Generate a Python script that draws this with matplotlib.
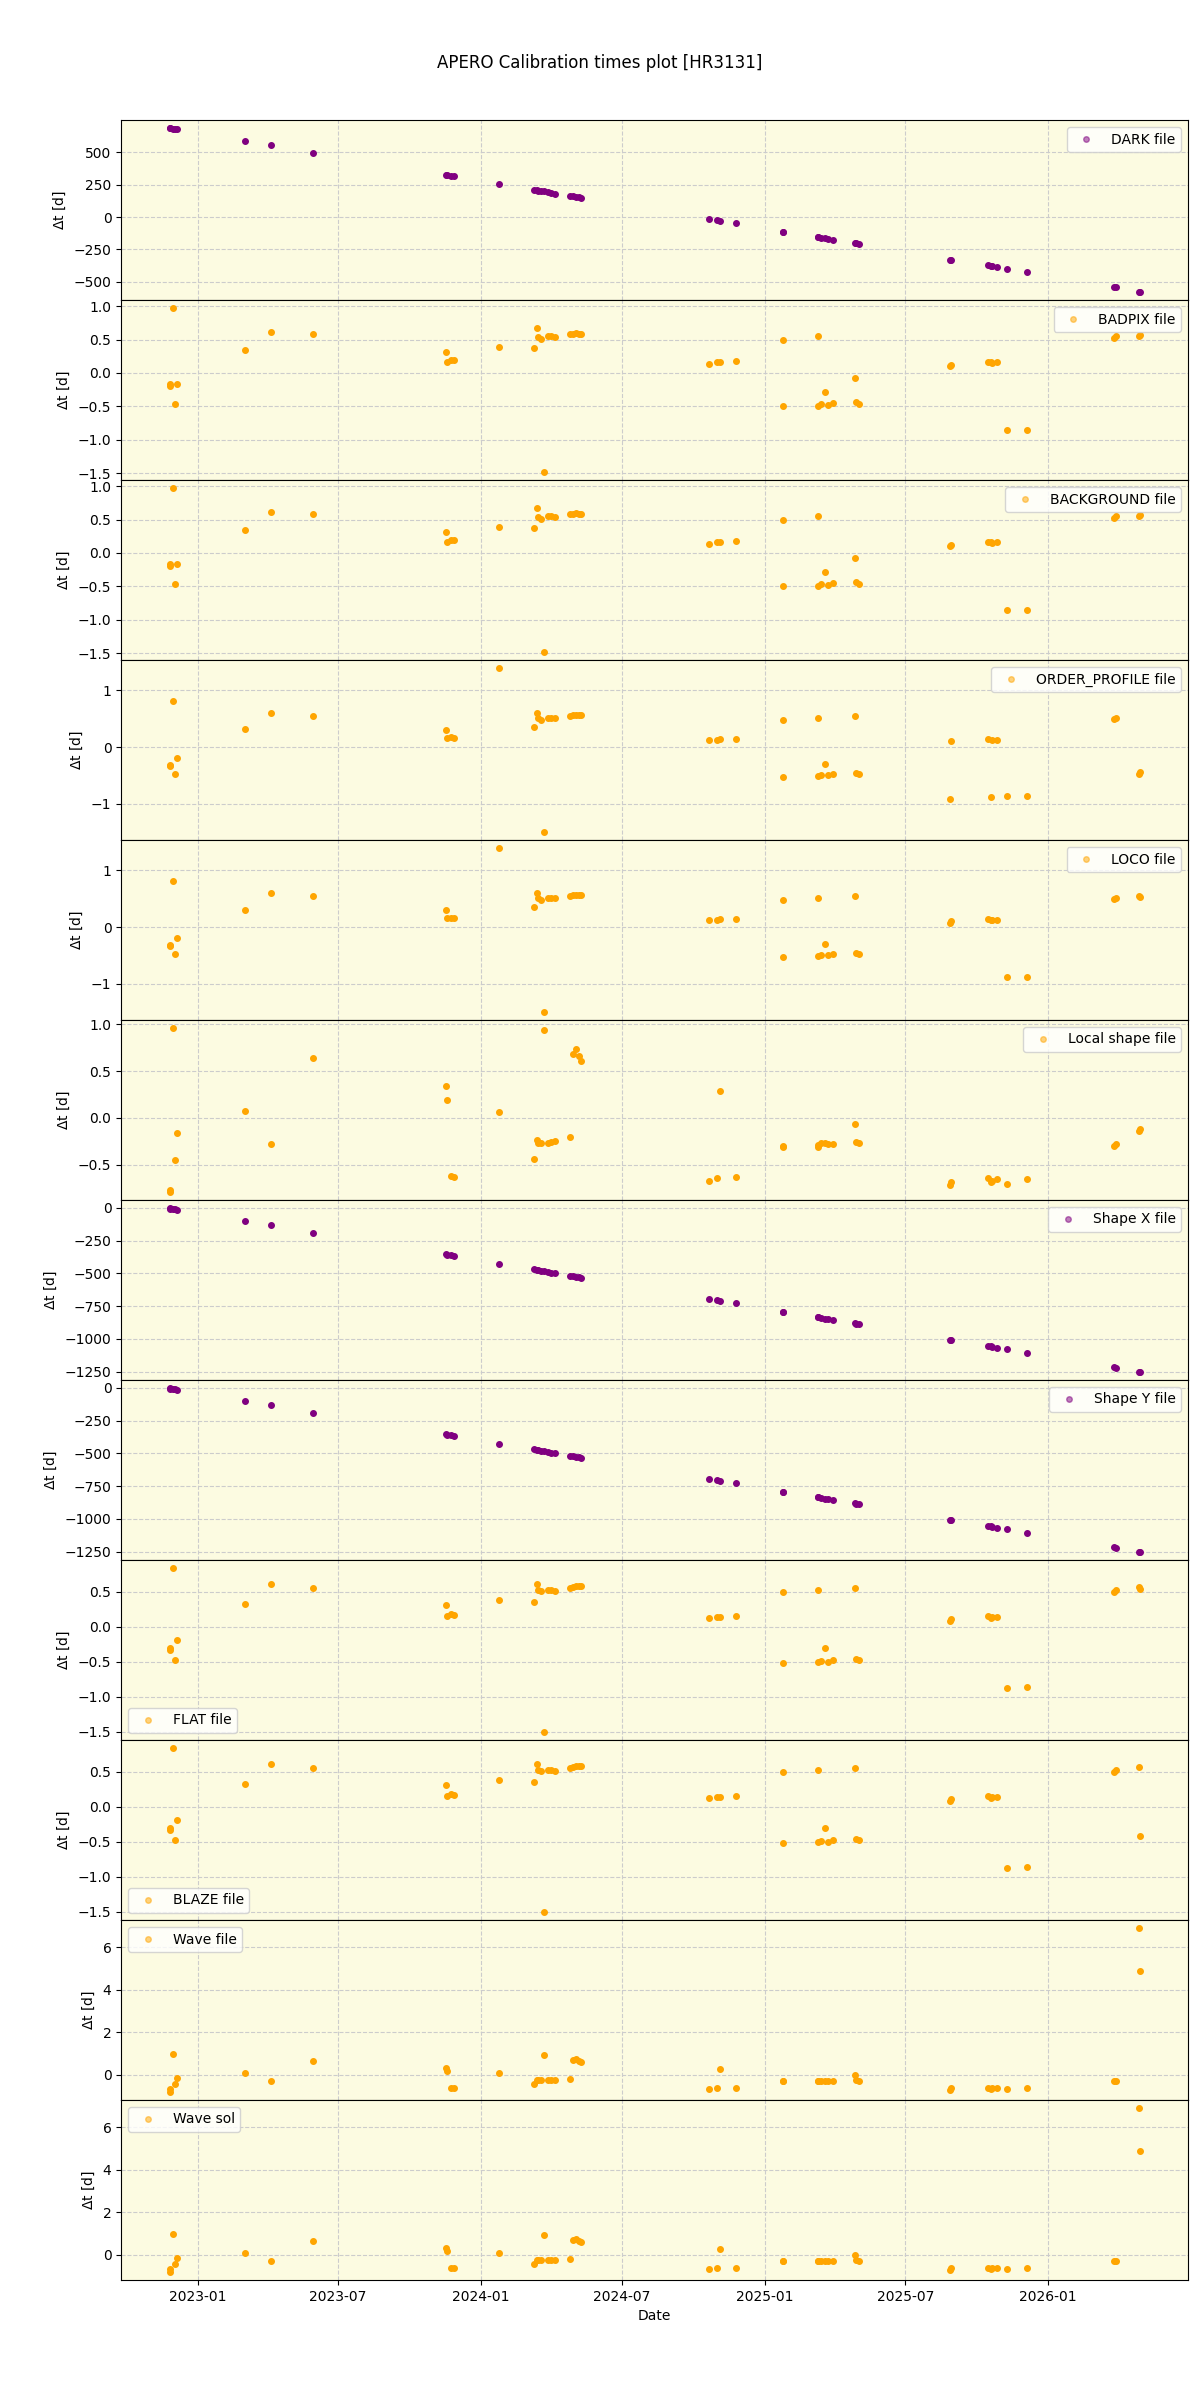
"""
plot.py
- Calibration time offsets (dt = t_calib - t_obs) for HR3131, one panel per calib type.
- Shared date axis, panels stacked with no vertical gap.
"""

import matplotlib
matplotlib.use("Agg")

import matplotlib.pyplot as plt
import matplotlib.dates as mdates
import pandas as pd

# observation dates (one entry per plotted point)
obs_dates = [
    "2022-11-26", "2022-11-27", "2022-11-30", "2022-12-03", "2022-12-06",
    "2023-03-03", "2023-04-06", "2023-05-30",
    "2023-11-17", "2023-11-18", "2023-11-24", "2023-11-27",
    "2024-01-25",
    "2024-03-09", "2024-03-13", "2024-03-15", "2024-03-18", "2024-03-22",
    "2024-03-28", "2024-04-01", "2024-04-05",
    "2024-04-25", "2024-04-29", "2024-05-03", "2024-05-06", "2024-05-09",
    "2024-10-21", "2024-11-01", "2024-11-04", "2024-11-25",
    "2025-01-24", "2025-01-25",
    "2025-03-10", "2025-03-11", "2025-03-15", "2025-03-19", "2025-03-24", "2025-03-30",
    "2025-04-27", "2025-04-28", "2025-05-03",
    "2025-08-28", "2025-08-29",
    "2025-10-16", "2025-10-19", "2025-10-21", "2025-10-27", "2025-11-09", "2025-12-05",
    "2026-03-27", "2026-03-30", "2026-04-28", "2026-04-29",
]

dark_dt = [
    685, 683, 680, 677, 675,
    585, 554, 492,
    326, 324, 318, 313,
    254,
    210, 207, 204, 201, 197, 192, 187, 180,
    163, 159, 155, 152, 150,
    -13, -24, -28, -50,
    -112, -115,
    -154, -156, -161, -165, -170, -175,
    -201, -203, -210,
    -328, -330,
    -374, -377, -380, -386, -398, -428,
    -536, -541, -575, -577,
]

badpix_dt = [
    -0.19, -0.17, 0.97, -0.46, -0.17,
    0.34, 0.62, 0.58,
    0.32, 0.17, 0.19, 0.20,
    0.39,
    0.38, 0.67, 0.54, 0.51, -1.48, 0.55, 0.56, 0.54,
    0.59, 0.58, 0.60, 0.58, 0.59,
    0.14, 0.16, 0.17, 0.18,
    -0.49, 0.50,
    -0.49, 0.55, -0.47, -0.29, -0.48, -0.45,
    -0.08, -0.44, -0.46,
    0.10, 0.12,
    0.17, 0.16, 0.15, 0.16, -0.85, -0.86,
    0.52, 0.55, 0.56, 0.57,
]

background_dt = list(badpix_dt)

order_profile_dt = [
    -0.33, -0.31, 0.82, -0.47, -0.19,
    0.32, 0.60, 0.54,
    0.30, 0.16, 0.18, 0.16,
    1.39,
    0.35, 0.60, 0.51, 0.48, -1.49, 0.52, 0.52, 0.51,
    0.55, 0.56, 0.57, 0.56, 0.56,
    0.12, 0.13, 0.14, 0.15,
    -0.52, 0.47,
    -0.50, 0.51, -0.49, -0.30, -0.49, -0.47,
    0.54, -0.46, -0.48,
    -0.92, 0.10,
    0.14, -0.87, 0.12, 0.13, -0.86, -0.86,
    0.49, 0.51, -0.47, -0.43,
]

loco_dt = [
    -0.33, -0.31, 0.82, -0.47, -0.19,
    0.31, 0.60, 0.54,
    0.30, 0.16, 0.17, 0.17,
    1.39,
    0.35, 0.60, 0.51, 0.48, -1.49, 0.52, 0.52, 0.51,
    0.55, 0.56, 0.57, 0.56, 0.56,
    0.12, 0.13, 0.14, 0.15,
    -0.52, 0.47,
    -0.50, 0.51, -0.49, -0.30, -0.49, -0.47,
    0.54, -0.46, -0.48,
    0.08, 0.11,
    0.14, 0.12, 0.13, 0.13, -0.87, -0.87,
    0.49, 0.51, 0.54, 0.53,
]

local_shape_dt = [
    -0.79, -0.77, 0.96, -0.45, -0.16,
    0.07, -0.28, 0.64,
    0.34, 0.19, -0.62, -0.63,
    0.06,
    -0.44, -0.24, -0.27, -0.27, 0.94, -0.27, -0.26, -0.25,
    -0.20, 0.68, 0.74, 0.66, 0.61,
    -0.67, -0.64, 0.29, -0.63,
    -0.30, -0.31,
    -0.31, -0.29, -0.27, -0.27, -0.28, -0.28,
    -0.07, -0.26, -0.27,
    -0.72, -0.68,
    -0.64, -0.68, -0.67, -0.65, -0.71, -0.65,
    -0.30, -0.28, -0.14, -0.12,
]

shape_x_dt = [
    -2, -5, -8, -11, -14,
    -98, -131, -189,
    -355, -357, -363, -367,
    -427,
    -470, -474, -477, -480, -484, -489, -494, -500,
    -518, -522, -526, -529, -532,
    -694, -705, -708, -729,
    -791, -792,
    -835, -836, -840, -845, -850, -856,
    -882, -884, -889,
    -1006, -1008,
    -1054, -1057, -1060, -1066, -1078, -1105,
    -1216, -1219, -1249, -1251,
]

shape_y_dt = list(shape_x_dt)

flat_dt = [
    -0.33, -0.30, 0.84, -0.47, -0.19,
    0.33, 0.61, 0.56,
    0.31, 0.16, 0.18, 0.17,
    0.38,
    0.36, 0.61, 0.53, 0.51, -1.50, 0.53, 0.53, 0.52,
    0.56, 0.57, 0.58, 0.58, 0.58,
    0.13, 0.14, 0.14, 0.16,
    -0.51, 0.50,
    -0.50, 0.53, -0.49, -0.30, -0.50, -0.47,
    0.56, -0.46, -0.48,
    0.08, 0.11,
    0.15, 0.13, 0.14, 0.14, -0.87, -0.86,
    0.50, 0.53, 0.57, 0.54,
]

blaze_dt = flat_dt[:-2] + [0.57, -0.41]

wave_dt = [
    -0.80, -0.69, 0.99, -0.41, -0.14,
    0.09, -0.28, 0.66,
    0.33, 0.20, -0.61, -0.63,
    0.09,
    -0.42, -0.22, -0.25, -0.25, 0.94, -0.25, -0.25, -0.24,
    -0.19, 0.70, 0.75, 0.67, 0.60,
    -0.66, -0.63, 0.28, -0.61,
    -0.28, -0.30,
    -0.28, -0.28, -0.28, -0.28, -0.28, -0.28,
    -0.03, -0.22, -0.30,
    -0.70, -0.61,
    -0.61, -0.66, -0.64, -0.64, -0.69, -0.64,
    -0.27, -0.27, 6.91, 4.89,
]

wave_sol_dt = list(wave_dt)

# (label, values, colour, legend location)
panels = [
    ("DARK file", dark_dt, "purple", "upper right"),
    ("BADPIX file", badpix_dt, "orange", "upper right"),
    ("BACKGROUND file", background_dt, "orange", "upper right"),
    ("ORDER_PROFILE file", order_profile_dt, "orange", "upper right"),
    ("LOCO file", loco_dt, "orange", "upper right"),
    ("Local shape file", local_shape_dt, "orange", "upper right"),
    ("Shape X file", shape_x_dt, "purple", "upper right"),
    ("Shape Y file", shape_y_dt, "purple", "upper right"),
    ("FLAT file", flat_dt, "orange", "lower left"),
    ("BLAZE file", blaze_dt, "orange", "lower left"),
    ("Wave file", wave_dt, "orange", "upper left"),
    ("Wave sol", wave_sol_dt, "orange", "upper left"),
]


def main():
    dates = pd.to_datetime(obs_dates)

    fig, axes = plt.subplots(len(panels), 1, figsize=(12, 24), sharex=True)
    fig.subplots_adjust(left=0.101, right=0.99, top=0.95, bottom=0.05, hspace=0)
    fig.suptitle("APERO Calibration times plot [HR3131]", y=0.9775, fontsize=12)

    for ax, (label, vals, colour, loc) in zip(axes, panels):
        ax.set_facecolor("#fcfbe1")
        ax.plot(dates, vals, ls="none", marker="o", ms=4, color=colour, label=label)
        ax.grid(True, linestyle="--", color="#cccccc", linewidth=0.8)
        ax.set_axisbelow(True)
        ax.set_ylabel(r"$\Delta$t [d]")
        leg = ax.legend(loc=loc)
        # legend marker appears paler than the stacked points
        for h in leg.legend_handles:
            h.set_alpha(0.5)

    axes[-1].xaxis.set_major_locator(mdates.MonthLocator(bymonth=[1, 7]))
    axes[-1].xaxis.set_major_formatter(mdates.DateFormatter("%Y-%m"))
    axes[-1].set_xlabel("Date")

    fig.savefig("out.png", dpi=100)
    plt.close(fig)


if __name__ == "__main__":
    main()
